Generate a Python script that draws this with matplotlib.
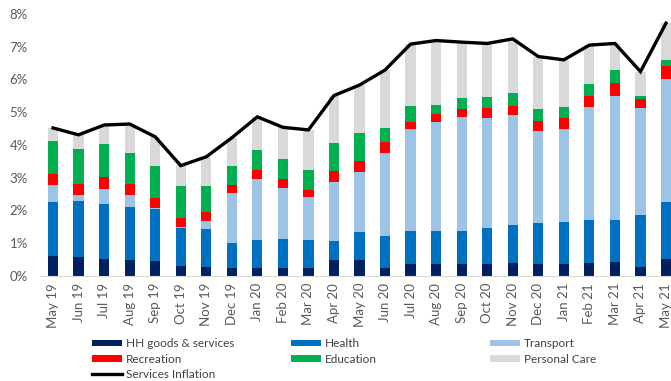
import matplotlib
matplotlib.use("Agg")
import matplotlib.pyplot as plt
from matplotlib.lines import Line2D
from matplotlib.patches import Patch
import numpy as np

months = ["May 19", "Jun 19", "Jul 19", "Aug 19", "Sep 19", "Oct 19", "Nov 19",
          "Dec 19", "Jan 20", "Feb 20", "Mar 20", "Apr 20", "May 20", "Jun 20",
          "Jul 20", "Aug 20", "Sep 20", "Oct 20", "Nov 20", "Dec 20", "Jan 21",
          "Feb 21", "Mar 21", "Apr 21", "May 21"]

# Contributions to services inflation (percentage points)
hh_goods = [0.61, 0.59, 0.53, 0.49, 0.46, 0.32, 0.28, 0.23, 0.23, 0.23, 0.23, 0.49, 0.49,
            0.23, 0.37, 0.37, 0.37, 0.37, 0.41, 0.37, 0.37, 0.41, 0.44, 0.27, 0.52]
health = [1.66, 1.70, 1.67, 1.63, 1.60, 1.16, 1.14, 0.79, 0.87, 0.90, 0.87, 0.59, 0.86,
          0.99, 1.01, 1.01, 1.01, 1.11, 1.15, 1.26, 1.29, 1.30, 1.27, 1.59, 1.75]
transport = [0.51, 0.18, 0.46, 0.35, 0.03, 0.02, 0.27, 1.52, 1.86, 1.55, 1.30, 1.78, 1.84,
             2.55, 3.11, 3.31, 3.48, 3.35, 3.36, 2.80, 2.83, 3.44, 3.79, 3.26, 3.75]
recreation = [0.33, 0.34, 0.35, 0.34, 0.28, 0.28, 0.25, 0.24, 0.28, 0.27, 0.23, 0.35, 0.33,
              0.33, 0.22, 0.26, 0.24, 0.29, 0.28, 0.31, 0.33, 0.35, 0.38, 0.27, 0.38]
education = [1.02, 1.07, 1.02, 0.96, 1.00, 0.97, 0.82, 0.59, 0.61, 0.61, 0.61, 0.84, 0.84,
             0.43, 0.48, 0.26, 0.32, 0.33, 0.38, 0.36, 0.33, 0.35, 0.41, 0.12, 0.20]
personal_care = [0.39, 0.43, 0.58, 0.87, 0.88, 0.64, 0.88, 0.85, 1.01, 0.98, 1.22, 1.46, 1.47,
                 1.76, 1.89, 1.98, 1.72, 1.65, 1.66, 1.60, 1.45, 1.20, 0.81, 0.73, 1.12]
services_inflation = [4.52, 4.31, 4.61, 4.64, 4.25, 3.37, 3.64, 4.22, 4.86, 4.54, 4.46, 5.51, 5.83,
                      6.29, 7.08, 7.19, 7.14, 7.10, 7.24, 6.70, 6.60, 7.05, 7.10, 6.24, 7.72]

series = [
    ("HH goods & services", hh_goods, "#002060"),
    ("Health", health, "#0070C0"),
    ("Transport", transport, "#9DC3E6"),
    ("Recreation", recreation, "#FF0000"),
    ("Education", education, "#00B050"),
    ("Personal Care", personal_care, "#D9D9D9"),
]

plt.rcParams["font.family"] = ["Lato", "DejaVu Sans"]
label_color = "#595959"

fig = plt.figure(figsize=(6.71, 3.81), dpi=100)
ax = fig.add_axes([0.06, 0.2756, 0.9516, 0.6877])

x = np.arange(len(months))
bottom = np.zeros(len(months))
handles = {}
for name, vals, color in series:
    vals = np.array(vals)
    ax.bar(x, vals, 0.4, bottom=bottom, color=color, linewidth=0, zorder=2)
    bottom += vals
    handles[name] = Patch(facecolor=color, edgecolor="none")

ax.plot(x, services_inflation, color="black", linewidth=2.4, zorder=3,
        solid_joinstyle="miter")
handles["Services Inflation"] = Line2D([], [], color="black", linewidth=2.4)

ax.set_xlim(-0.5, len(months) - 0.5)
ax.set_ylim(0, 8)
ax.set_yticks(range(0, 9))
ax.set_yticklabels([f"{v}%" for v in range(0, 9)])
ax.set_xticks(x)
ax.set_xticklabels(months, rotation=90)
ax.tick_params(axis="both", length=0, colors=label_color, labelsize=9.5)
ax.tick_params(axis="y", pad=9)
ax.tick_params(axis="x", pad=5)
for s in ["top", "right", "left"]:
    ax.spines[s].set_visible(False)
ax.spines["bottom"].set_color("#D9D9D9")
ax.spines["bottom"].set_linewidth(0.8)

legend_cols = [
    (["HH goods & services", "Recreation", "Services Inflation"], 0.1371),
    (["Health", "Education"], 0.4337),
    (["Transport", "Personal Care"], 0.7303),
]
for names, xpos in legend_cols:
    leg = fig.legend([handles[n] for n in names], names, loc="upper left",
                     bbox_to_anchor=(xpos, 0.1126), frameon=False, fontsize=8.5,
                     handlelength=2.5, handleheight=0.5, handletextpad=0.35,
                     labelspacing=0.385, borderaxespad=0, borderpad=0)
    for t in leg.get_texts():
        t.set_color("#404040")

fig.savefig("out.png", dpi=100)
